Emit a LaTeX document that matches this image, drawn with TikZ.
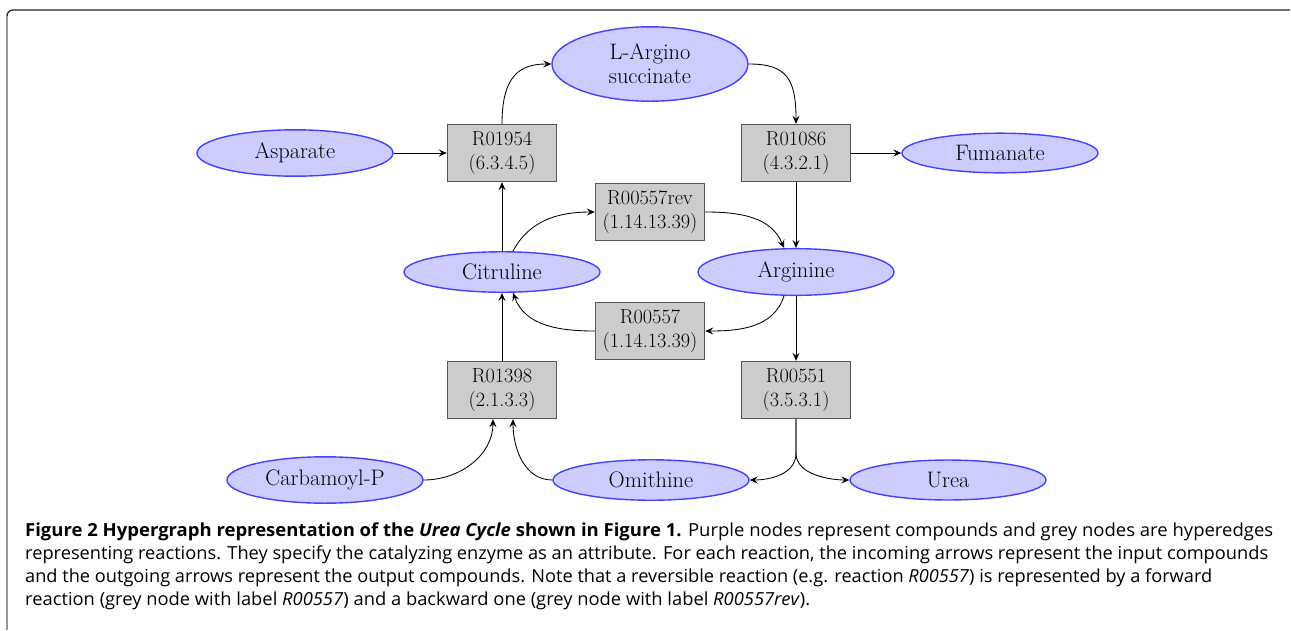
\documentclass[tikz,border=0pt]{standalone}
\usepackage{fontspec}
\newfontfamily\capfont{Open Sans}
\usetikzlibrary{shapes.geometric,arrows.meta}
\definecolor{cfill}{HTML}{CCCCFF}
\definecolor{cdraw}{HTML}{4343FF}
\definecolor{rfill}{HTML}{CCCCCC}
\definecolor{rdraw}{HTML}{555555}
\newcommand\diagfont{\fontsize{20.3}{24.5}\selectfont}
\newcommand\compfont{\fontsize{22.4}{24}\selectfont}
\begin{document}
\begin{tikzpicture}[x=1pt,y=1pt,
  compound/.style={ellipse,draw=cdraw,fill=cfill,line width=1.4pt,minimum width=196pt,inner sep=6.3pt,font=\compfont,align=center},
  reaction/.style={rectangle,draw=rdraw,fill=rfill,line width=1.4pt,minimum width=109pt,minimum height=57pt,inner sep=4pt,font=\diagfont,align=center},
  link/.style={draw=black,line width=0.85pt,-{Stealth[length=8pt,width=7pt,inset=3pt]}},
  captxt/.style={anchor=base west,inner sep=0pt,font=\capfont\fontsize{18}{22.8}\selectfont}]
\useasboundingbox (0,0) rectangle (1291,-630);
% frame
\draw[gray!80,line width=1.3pt] (7,-630) -- (7,-16);
\draw[black!85,line width=1.3pt] (7,-16) arc[start angle=180,end angle=90,radius=6] -- (1290,-10);
% nodes
\node[compound] (larg) at (650,-64) {L-Argino\\succinate};
\node[compound] (asp) at (295,-153) {Asparate};
\node[reaction] (r1954) at (502,-153) {R01954\\(6.3.4.5)};
\node[reaction] (r1086) at (796,-153) {R01086\\(4.3.2.1)};
\node[compound] (fum) at (1000,-153) {Fumanate};
\node[reaction] (r557rev) at (650,-212) {R00557rev\\(1.14.13.39)};
\node[compound] (cit) at (502,-272) {Citruline};
\node[compound] (arg) at (796,-272) {Arginine};
\node[reaction] (r557) at (650,-331) {R00557\\(1.14.13.39)};
\node[reaction] (r1398) at (502,-390) {R01398\\(2.1.3.3)};
\node[reaction] (r551) at (796,-390) {R00551\\(3.5.3.1)};
\node[compound] (carb) at (325,-480) {Carbamoyl-P};
\node[compound] (omi) at (651,-480) {Omithine};
\node[compound] (urea) at (948,-480) {Urea};
% connectors
\draw[link] (asp) -- (r1954);
\draw[link] (r1954.north) .. controls +(0,50) and +(-30,0) .. (larg.west);
\draw[link] (larg.east) .. controls +(38,0) and +(0,45) .. (r1086.north);
\draw[link] (r1086) -- (fum);
\draw[link] (r1086) -- (arg);
\draw[link] (cit) -- (r1954);
\draw[link] ([xshift=11pt]cit.north) to[out=62,in=180] (r557rev.west);
\draw[link] (r557rev.east) to[out=0,in=112] ([xshift=-12pt]arg.north);
\draw[link] ([xshift=-12pt]arg.south) to[out=-108,in=0] (r557.east);
\draw[link] (r557.west) to[out=180,in=-70] ([xshift=11pt]cit.south);
\draw[link] (r1398) -- (cit);
\draw[link] (carb.east) to[out=0,in=-90] ([xshift=-9pt]r1398.south);
\draw[link] (omi.west) to[out=180,in=-90] ([xshift=11pt]r1398.south);
\draw[link] (r551.south) -- ++(0,-34) .. controls +(0,-22) and +(18,0) .. (omi.east);
\draw[link] (r551.south) -- ++(0,-34) .. controls +(0,-22) and +(-18,0) .. (urea.west);
\draw[link] (arg) -- (r551);
% caption
\node[captxt] (cap1) at (25,-536) {\resizebox{1248pt}{\height}{\textbf{Figure 2 Hypergraph representation of the \textit{Urea Cycle} shown in Figure 1.} Purple nodes represent compounds and grey nodes are hyperedges}};
\node[captxt] (cap2) at (25,-559) {\resizebox{1243pt}{\height}{representing reactions. They specify the catalyzing enzyme as an attribute. For each reaction, the incoming arrows represent the input compounds}};
\node[captxt] (cap3) at (25,-582) {\resizebox{1187pt}{\height}{and the outgoing arrows represent the output compounds. Note that a reversible reaction (e.g. reaction \textit{R00557}) is represented by a forward}};
\node[captxt] (cap4) at (25,-605) {\resizebox{785pt}{\height}{reaction (grey node with label \textit{R00557}) and a backward one (grey node with label \textit{R00557rev}).}};
\end{tikzpicture}
\end{document}
